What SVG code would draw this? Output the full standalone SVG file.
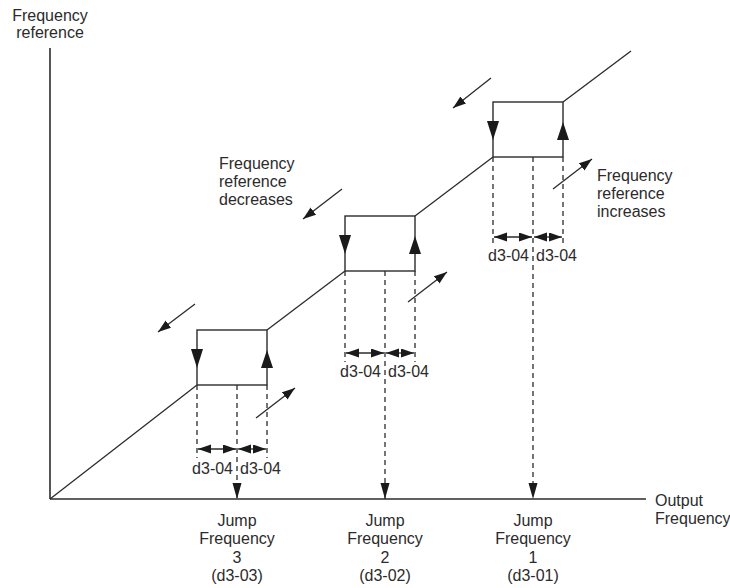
<svg xmlns="http://www.w3.org/2000/svg" width="730" height="588" viewBox="0 0 730 588">
<style>
text{font-family:"Liberation Sans",Arial,sans-serif;font-size:16px;fill:#2b2b2b}
.c{text-anchor:middle}
.ln{stroke:#2b2b2b;stroke-width:1.3;fill:none}
.ax{stroke:#2b2b2b;stroke-width:1.6;fill:none}
.box{stroke:#2b2b2b;stroke-width:1.4;fill:none}
.ds{stroke:#2b2b2b;stroke-width:1.3;fill:none;stroke-dasharray:5,4}
.tri{fill:#1a1a1a}
.ar{marker-end:url(#ah)}
.dd{marker-start:url(#ah);marker-end:url(#ah)}
.jmp{marker-end:url(#jh)}
</style>
<defs>
<marker id="ah" markerUnits="userSpaceOnUse" markerWidth="14" markerHeight="10" refX="13" refY="4.5" orient="auto-start-reverse">
<path d="M0,0 L13,4.5 L0,9 z" fill="#1a1a1a"/>
</marker>
<marker id="jh" markerUnits="userSpaceOnUse" markerWidth="17" markerHeight="10" refX="16" refY="4.5" orient="auto">
<path d="M0,0 L16,4.5 L0,9 z" fill="#1a1a1a"/>
</marker>
</defs>

<g id="axes">
<line class="ax" x1="50" y1="48" x2="50" y2="499"/>
<line class="ax" x1="50" y1="499" x2="646" y2="499"/>
<text id="ylabel" class="c"><tspan x="50" y="21">Frequency</tspan><tspan x="50" y="38">reference</tspan></text>
<text id="xlabel"><tspan x="655" y="506">Output</tspan><tspan x="655" y="524">Frequency</tspan></text>
</g>

<g id="connectors">
<line class="ln" x1="50" y1="499" x2="197" y2="385"/>
<line class="ln" x1="267" y1="330" x2="345" y2="271"/>
<line class="ln" x1="415" y1="216" x2="493" y2="157"/>
<line class="ln" x1="563" y1="102" x2="631" y2="51"/>
<line class="ln ar" x1="195" y1="304" x2="158" y2="332"/>
<line class="ln ar" x1="256" y1="418" x2="295" y2="388"/>
<line class="ln ar" x1="342" y1="189" x2="303" y2="219"/>
<line class="ln ar" x1="408" y1="302" x2="447" y2="272"/>
<line class="ln ar" x1="491" y1="78" x2="453" y2="108"/>
<line class="ln ar" x1="553" y1="189" x2="592" y2="159"/>
</g>

<g id="jump3">
<rect class="box" x="197" y="330" width="70" height="55"/>
<polygon class="tri" points="191,349 203,349 197,368"/>
<polygon class="tri" points="261,368 273,368 267,350"/>
<line class="ds" x1="197" y1="385" x2="197" y2="458"/>
<line class="ds" x1="267" y1="385" x2="267" y2="458"/>
<line class="ds jmp" x1="237" y1="385" x2="237" y2="499"/>
<line class="ln dd" x1="198" y1="449" x2="236" y2="449"/>
<line class="ln dd" x1="238" y1="449" x2="266" y2="449"/>
<text x="233" y="474" text-anchor="end">d3-04</text>
<text x="240" y="474">d3-04</text>
<text class="c"><tspan x="237" y="526">Jump</tspan><tspan x="237" y="544">Frequency</tspan><tspan x="237" y="563">3</tspan><tspan x="237" y="581">(d3-03)</tspan></text>
</g>

<g id="jump2">
<rect class="box" x="345" y="216" width="70" height="55"/>
<polygon class="tri" points="339,235 351,235 345,254"/>
<polygon class="tri" points="409,254 421,254 415,236"/>
<line class="ds" x1="345" y1="271" x2="345" y2="362"/>
<line class="ds" x1="415" y1="271" x2="415" y2="362"/>
<line class="ds jmp" x1="385" y1="271" x2="385" y2="499"/>
<line class="ln dd" x1="346" y1="353" x2="384" y2="353"/>
<line class="ln dd" x1="386" y1="353" x2="414" y2="353"/>
<text x="381" y="377" text-anchor="end">d3-04</text>
<text x="388" y="377">d3-04</text>
<text class="c"><tspan x="385" y="526">Jump</tspan><tspan x="385" y="544">Frequency</tspan><tspan x="385" y="563">2</tspan><tspan x="385" y="581">(d3-02)</tspan></text>
<text><tspan x="219" y="169">Frequency</tspan><tspan x="219" y="187">reference</tspan><tspan x="219" y="205">decreases</tspan></text>
</g>

<g id="jump1">
<rect class="box" x="493" y="102" width="70" height="55"/>
<polygon class="tri" points="487,121 499,121 493,140"/>
<polygon class="tri" points="557,140 569,140 563,122"/>
<line class="ds" x1="493" y1="157" x2="493" y2="246"/>
<line class="ds" x1="563" y1="157" x2="563" y2="246"/>
<line class="ds jmp" x1="533" y1="157" x2="533" y2="499"/>
<line class="ln dd" x1="494" y1="237" x2="532" y2="237"/>
<line class="ln dd" x1="534" y1="237" x2="562" y2="237"/>
<text x="529" y="261" text-anchor="end">d3-04</text>
<text x="536" y="261">d3-04</text>
<text class="c"><tspan x="533" y="526">Jump</tspan><tspan x="533" y="544">Frequency</tspan><tspan x="533" y="563">1</tspan><tspan x="533" y="581">(d3-01)</tspan></text>
<text><tspan x="597" y="181">Frequency</tspan><tspan x="597" y="199">reference</tspan><tspan x="597" y="217">increases</tspan></text>
</g>
</svg>
